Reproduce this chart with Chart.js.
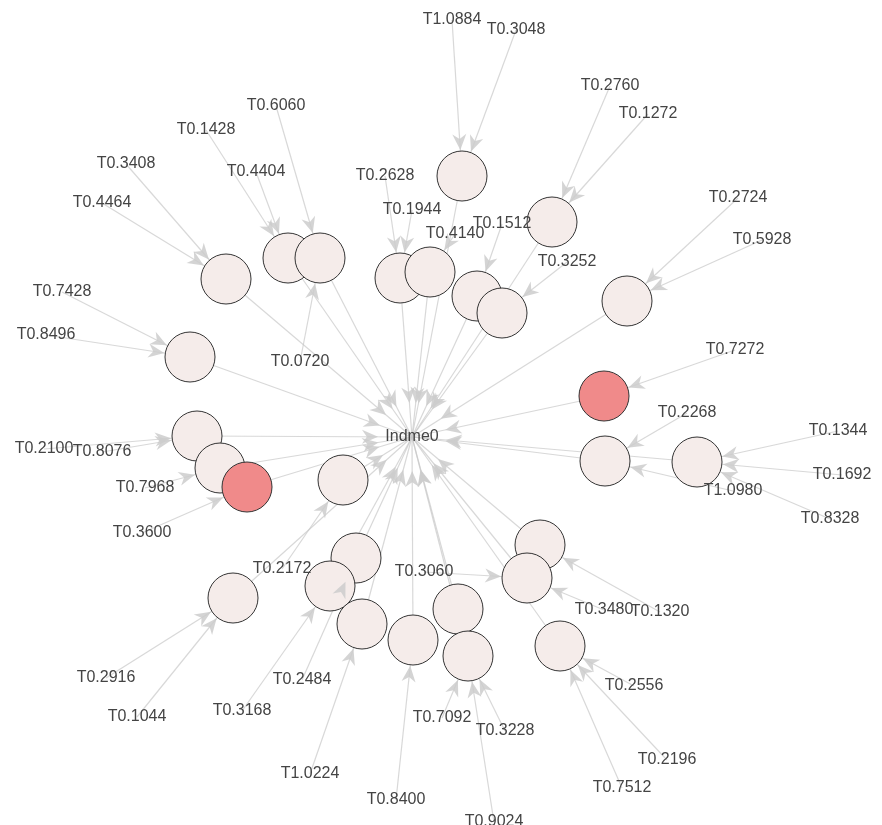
<!DOCTYPE html>
<html>
<head>
<meta charset="utf-8">
<script src="https://cdn.jsdelivr.net/npm/chart.js@4/dist/chart.umd.min.js"></script>
<style>
  html, body { margin: 0; padding: 0; background: #fff; }
  #wrap { width: 882px; height: 825px; }
</style>
</head>
<body>
<div id="wrap"><canvas id="graph"></canvas></div>
<script>
// center node
const centerName = 'Indme0';
const centerX = 412, centerY = 437;

// circle nodes
const nodeX = [462, 552, 226, 288, 320, 400, 430, 477, 502, 627, 190, 604, 197, 220, 247, 343, 605, 697, 540, 527, 356, 330, 233, 362, 413, 458, 468, 560];
const nodeY = [176, 222, 279, 258, 258, 278, 272, 296, 313, 301, 357, 396, 436, 468, 487, 480, 461, 462, 545, 578, 558, 586, 598, 624, 640, 609, 656, 646];
const nodeRed = [11, 14];

// label nodes -> circle node index
const labelText = ['T1.0884', 'T0.3048', 'T0.2760', 'T0.1272', 'T0.6060', 'T0.1428', 'T0.4404', 'T0.3408', 'T0.4464',
  'T0.2628', 'T0.1944', 'T0.1512', 'T0.4140', 'T0.3252', 'T0.2724', 'T0.5928', 'T0.7428', 'T0.8496', 'T0.0720',
  'T0.7272', 'T0.2268', 'T0.2100', 'T0.8076', 'T0.7968', 'T0.3600', 'T0.1344', 'T0.1692', 'T0.8328', 'T1.0980',
  'T0.2172', 'T0.3060', 'T0.3480', 'T0.1320', 'T0.2556', 'T0.2196', 'T0.7512', 'T0.2916', 'T0.1044', 'T0.3168',
  'T0.2484', 'T1.0224', 'T0.8400', 'T0.7092', 'T0.3228', 'T0.9024'];
const labelX = [452, 516, 610, 648, 276, 206, 256, 126, 102, 385, 412, 502, 455, 567, 738, 762, 62, 46, 300,
  735, 687, 44, 102, 145, 142, 838, 842, 830, 733, 282, 424, 604, 660, 634, 667, 622, 106, 137, 242,
  302, 310, 396, 442, 505, 494];
const labelY = [20, 30, 86, 114, 106, 130, 172, 164, 203, 176, 210, 224, 234, 262, 198, 240, 292, 335, 362,
  350, 413, 449, 452, 488, 533, 431, 475, 519, 491, 569, 572, 610, 612, 686, 760, 788, 678, 717, 711,
  680, 774, 800, 718, 731, 822];
const labelTarget = [0, 0, 1, 1, 4, 3, 3, 2, 2, 5, 5, 7, 6, 8, 9, 9, 10, 10, 4,
  11, 16, 12, 12, 13, 14, 17, 17, 17, 16, 15, 19, 19, 18, 27, 27, 27, 22, 22, 21,
  20, 23, 24, 26, 26, 26];

const NODE_R = 25, CENTER_R = 48;
const edgeColor = 'rgba(200,200,200,0.7)';

const datasets = [];
// label -> node edges
labelText.forEach((t, i) => {
  const k = labelTarget[i];
  datasets.push({
    type: 'scatter', showLine: true, borderColor: edgeColor, borderWidth: 1.2, pointRadius: 0,
    data: [{ x: labelX[i], y: labelY[i] }, { x: nodeX[k], y: nodeY[k] }], order: 3
  });
});
// node -> center edges
nodeX.forEach((x, i) => {
  datasets.push({
    type: 'scatter', showLine: true, borderColor: edgeColor, borderWidth: 1.2, pointRadius: 0,
    data: [{ x: x, y: nodeY[i] }, { x: centerX, y: centerY }], order: 3
  });
});
// circle nodes
datasets.push({
  type: 'scatter', order: 1,
  data: nodeX.map((x, i) => ({ x: x, y: nodeY[i] })),
  pointRadius: NODE_R, pointHoverRadius: NODE_R,
  pointBackgroundColor: nodeX.map((x, i) => nodeRed.includes(i) ? '#f08a8a' : '#f5ecea'),
  pointBorderColor: '#333', pointBorderWidth: 1
});

// arrowheads and text
const graphPlugin = {
  id: 'graphPlugin',
  afterDatasetsDraw(chart) {
    const ctx = chart.ctx, xs = chart.scales.x, ys = chart.scales.y;
    function arrow(fx, fy, tx, ty, r) {
      const ax = xs.getPixelForValue(fx), ay = ys.getPixelForValue(fy);
      const bx = xs.getPixelForValue(tx), by = ys.getPixelForValue(ty);
      const a = Math.atan2(by - ay, bx - ax);
      const px = bx - Math.cos(a) * r, py = by - Math.sin(a) * r;
      const len = 16, w = 7;
      ctx.beginPath();
      ctx.moveTo(px, py);
      ctx.lineTo(px - Math.cos(a) * len - Math.sin(a) * w, py - Math.sin(a) * len + Math.cos(a) * w);
      ctx.lineTo(px - Math.cos(a) * len * 0.7, py - Math.sin(a) * len * 0.7);
      ctx.lineTo(px - Math.cos(a) * len + Math.sin(a) * w, py - Math.sin(a) * len - Math.cos(a) * w);
      ctx.closePath();
      ctx.fill();
    }
    ctx.save();
    ctx.fillStyle = 'rgba(205,205,205,0.85)';
    labelText.forEach((t, i) => {
      const k = labelTarget[i];
      arrow(labelX[i], labelY[i], nodeX[k], nodeY[k], NODE_R + 1);
    });
    nodeX.forEach((x, i) => arrow(x, nodeY[i], centerX, centerY, CENTER_R - 14));
    ctx.font = '16px "Liberation Sans", Arial, sans-serif';
    ctx.textAlign = 'center';
    ctx.textBaseline = 'middle';
    ctx.fillStyle = '#444';
    labelText.forEach((t, i) => {
      ctx.fillText(t, xs.getPixelForValue(labelX[i]), ys.getPixelForValue(labelY[i]));
    });
    ctx.fillText(centerName, xs.getPixelForValue(centerX), ys.getPixelForValue(centerY));
    ctx.restore();
  }
};

new Chart(document.getElementById('graph'), {
  type: 'scatter',
  data: { datasets: datasets },
  options: {
    responsive: true, maintainAspectRatio: false, animation: false,
    layout: { padding: 0, autoPadding: false },
    plugins: { legend: { display: false }, tooltip: { enabled: false } },
    scales: {
      x: { type: 'linear', min: 0, max: 882, display: false },
      y: { type: 'linear', min: 0, max: 825, reverse: true, display: false }
    }
  },
  plugins: [graphPlugin]
});
</script>
</body>
</html>
